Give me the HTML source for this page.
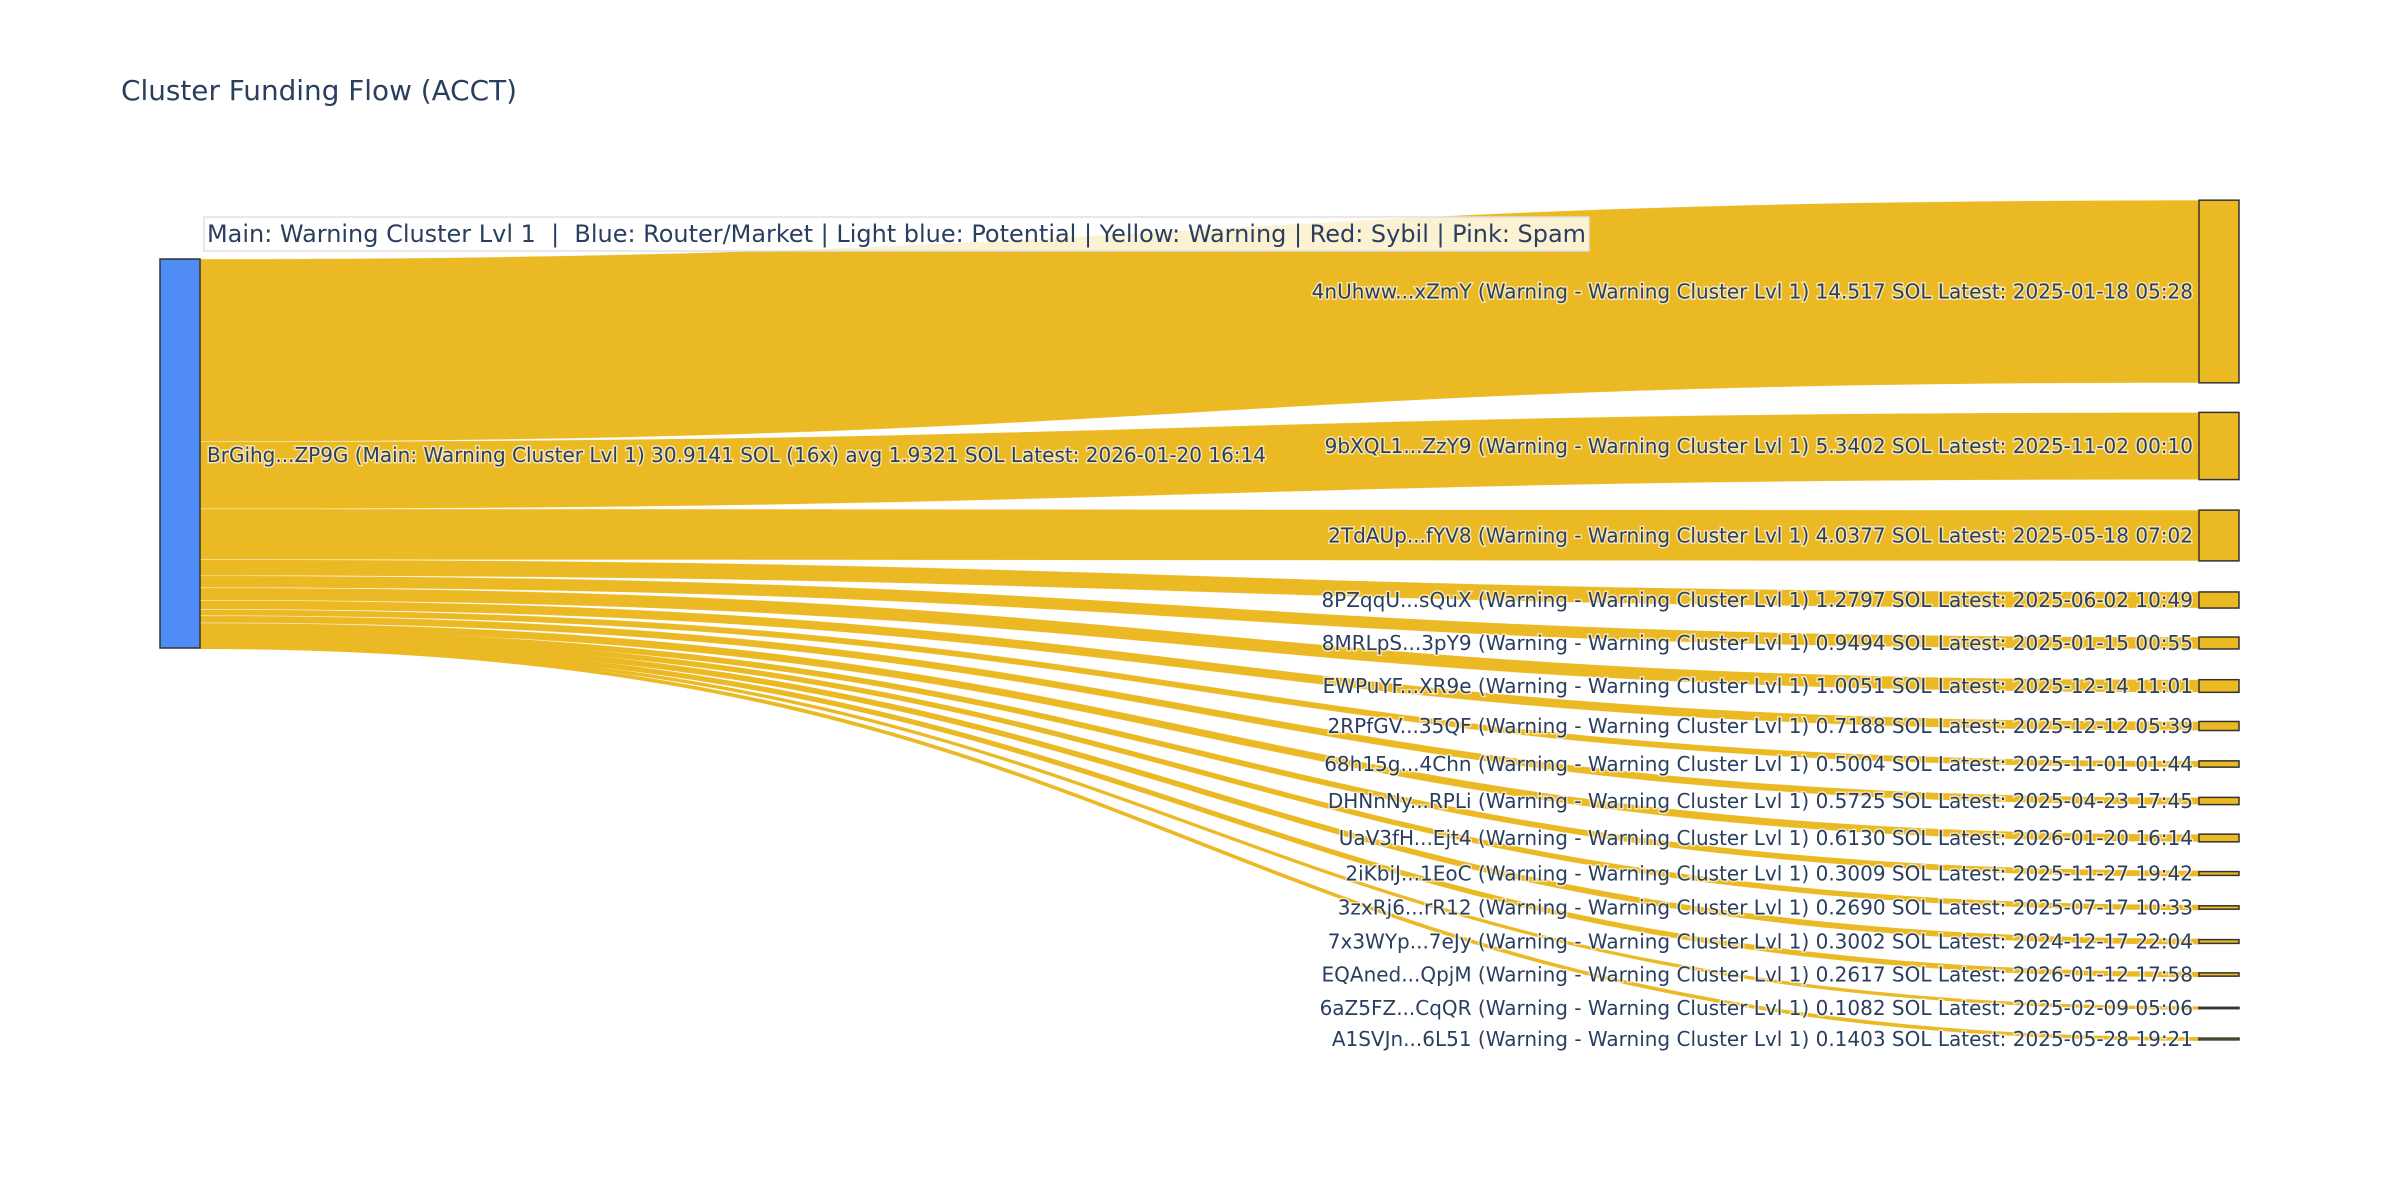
<!DOCTYPE html>
<html><head><meta charset="utf-8"><style>
html,body{margin:0;padding:0;background:#fff;width:2400px;height:1200px;overflow:hidden}
svg{display:block}
text{font-family:"DejaVu Sans","Liberation Sans",sans-serif;fill:#2a3f5f;white-space:pre}
</style></head><body>
<svg id="s" width="2400" height="1200" xmlns="http://www.w3.org/2000/svg">
<g id="links"></g>
<rect x="160" y="259" width="40" height="389" fill="#508cf5" stroke="#333" stroke-width="1.5"/>
<g id="nodes"></g>
<g id="labels"></g>
<text x="207" y="462" font-size="20" textLength="1059" lengthAdjust="spacingAndGlyphs" style="paint-order:stroke;stroke:#fff;stroke-width:3px;stroke-opacity:0.6">BrGihg...ZP9G (Main: Warning Cluster Lvl 1) 30.9141 SOL (16x) avg 1.9321 SOL Latest: 2026-01-20 16:14</text>
<rect x="204" y="217" width="1385" height="34" fill="rgba(255,255,255,0.8)" stroke="#e0e0e0" stroke-width="1.5"/>
<text x="207" y="242" font-size="24" textLength="1379" lengthAdjust="spacingAndGlyphs" xml:space="preserve">Main: Warning Cluster Lvl 1  |  Blue: Router/Market | Light blue: Potential | Yellow: Warning | Red: Sybil | Pink: Spam</text>
<text x="121" y="100" font-size="28" textLength="396" lengthAdjust="spacingAndGlyphs">Cluster Funding Flow (ACCT)</text>
</svg>
<script>
var d=[
["4nUhww...xZmY",14.517,"2025-01-18 05:28",291.5],
["9bXQL1...ZzY9",5.3402,"2025-11-02 00:10",446],
["2TdAUp...fYV8",4.0377,"2025-05-18 07:02",535.5],
["8PZqqU...sQuX",1.2797,"2025-06-02 10:49",600],
["8MRLpS...3pY9",0.9494,"2025-01-15 00:55",643],
["EWPuYF...XR9e",1.0051,"2025-12-14 11:01",686],
["2RPfGV...35QF",0.7188,"2025-12-12 05:39",726],
["68h15g...4Chn",0.5004,"2025-11-01 01:44",764],
["DHNnNy...RPLi",0.5725,"2025-04-23 17:45",801],
["UaV3fH...Ejt4",0.6130,"2026-01-20 16:14",838],
["2iKbiJ...1EoC",0.3009,"2025-11-27 19:42",873.5],
["3zxRj6...rR12",0.2690,"2025-07-17 10:33",907.5],
["7x3WYp...7eJy",0.3002,"2024-12-17 22:04",941.5],
["EQAned...QpjM",0.2617,"2026-01-12 17:58",974.5],
["6aZ5FZ...CqQR",0.1082,"2025-02-09 05:06",1008],
["A1SVJn...6L51",0.1403,"2025-05-28 19:21",1039]];
var sc=389/30.9141,y0=259,L="",N="",T="";
d.forEach(function(r){
 var h=r[1]*sc,ty=r[3]-h/2,x0=200,x1=2199,xm=(x0+x1)/2;
 var thin=h<5;
 L+='<path d="M'+x0+','+y0+' C'+xm+','+y0+' '+xm+','+ty+' '+x1+','+ty+' L'+x1+','+(ty+h)+' C'+xm+','+(ty+h)+' '+xm+','+(y0+h)+' '+x0+','+(y0+h)+'Z" fill="#ebb924" stroke="'+(thin?'#ebb924':'#fff')+'" stroke-width="'+(thin?2:0.6)+'" stroke-opacity="'+(thin?1:0.6)+'"/>';
 N+='<rect x="2199" y="'+ty+'" width="40" height="'+Math.max(h,1)+'" fill="#ebb924" stroke="#333" stroke-width="1.5"/>';
 var s=r[0]+" (Warning - Warning Cluster Lvl 1) "+r[1].toFixed(r[1]==14.517?3:4)+" SOL Latest: "+r[2];
 T+='<text x="2193" y="'+(r[3]+7)+'" font-size="20" text-anchor="end" style="paint-order:stroke;stroke:#fff;stroke-width:3px;stroke-opacity:0.6">'+s+'</text>';
 y0+=h;
});
document.getElementById("links").innerHTML=L;
document.getElementById("nodes").innerHTML=N;
document.getElementById("labels").innerHTML=T;
</script>
</body></html>
